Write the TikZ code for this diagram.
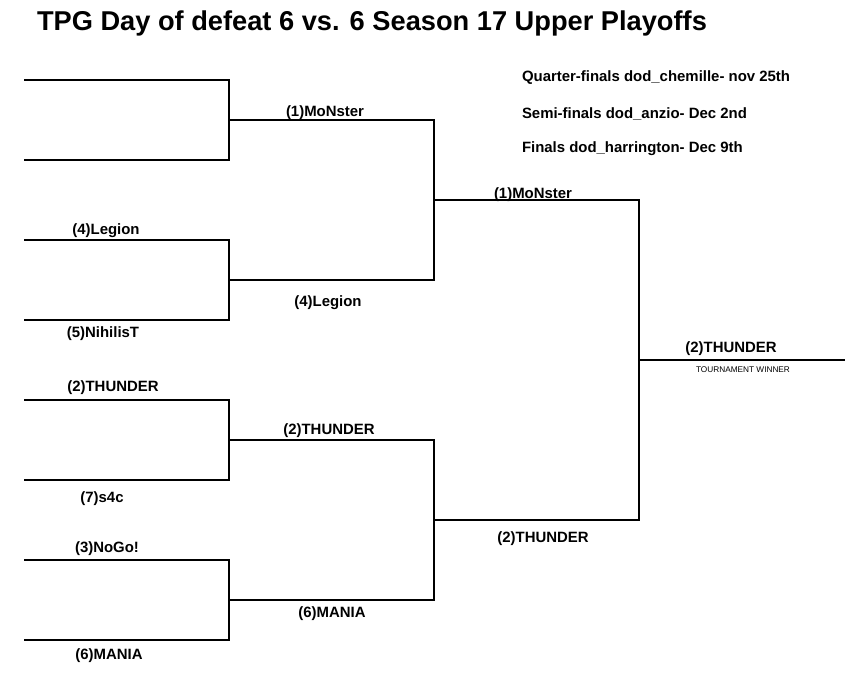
\documentclass[tikz,border=0pt]{standalone}
\usepackage{fontspec}
\setmainfont{Liberation Sans}
\usepackage{tikz}
\usetikzlibrary{positioning}

\begin{document}
\begin{tikzpicture}[
  x=0.02cm, y=-0.02cm,
  every node/.style={inner sep=0pt, outer sep=0pt},
  team/.style={font=\fontsize{8.5}{10}\selectfont\bfseries},
  info/.style={font=\fontsize{8.5}{10}\selectfont\bfseries, anchor=west},
  title/.style={font=\fontsize{15.5}{18}\selectfont\bfseries, anchor=west},
  tiny/.style={font=\fontsize{4.7}{6}\selectfont},
  line/.style={draw=black, line width=0.6pt}
]
\useasboundingbox (0,0) rectangle (845,681);

\node[title] (head) at (37,23) {TPG Day of defeat 6 vs. 6 Season 17 Upper Playoffs};
\node[info] (qfdate) at (522,78) {Quarter-finals dod\_chemille- nov 25th};
\node[info] (sfdate) at (522,114) {Semi-finals dod\_anzio- Dec 2nd};
\node[info] (fdate) at (522,149) {Finals dod\_harrington- Dec 9th};

% quarter-final slots
\coordinate (qf1a) at (24,80);
\coordinate (qf1b) at (24,160);
\coordinate (qf2a) at (24,240);
\coordinate (qf2b) at (24,320);
\coordinate (qf3a) at (24,400);
\coordinate (qf3b) at (24,480);
\coordinate (qf4a) at (24,560);
\coordinate (qf4b) at (24,640);
% semi-final slots
\coordinate (sf1a) at (229,120);
\coordinate (sf1b) at (229,280);
\coordinate (sf2a) at (229,440);
\coordinate (sf2b) at (229,600);
% final slots
\coordinate (fin1) at (434,200);
\coordinate (fin2) at (434,520);
\coordinate (champ) at (639,360);
\coordinate (champend) at (845,360);

\draw[line] (qf1a) -| (sf1a) |- (qf1b);
\draw[line] (qf2a) -| (sf1b) |- (qf2b);
\draw[line] (qf3a) -| (sf2a) |- (qf3b);
\draw[line] (qf4a) -| (sf2b) |- (qf4b);
\draw[line] (sf1a) -| (fin1) |- (sf1b);
\draw[line] (sf2a) -| (fin2) |- (sf2b);
\draw[line] (fin1) -| (champ) |- (fin2);
\draw[line] (champ) -- (champend);

\node[team] (legionqf) at (106,231) {(4)Legion};
\node[team] (nihilis) at (103,334) {(5)NihilisT};
\node[team] (thunderqf) at (113,388) {(2)THUNDER};
\node[team] (s4c) at (102,499) {(7)s4c};
\node[team] (nogo) at (107,549) {(3)NoGo!};
\node[team] (maniaqf) at (109,656) {(6)MANIA};

\node[team] (monstersf) at (325,113) {(1)MoNster};
\node[team] (legionsf) at (328,303) {(4)Legion};
\node[team] (thundersf) at (329,431) {(2)THUNDER};
\node[team] (maniasf) at (332,614) {(6)MANIA};

\node[team] (monsterf) at (533,195) {(1)MoNster};
\node[team] (thunderf) at (543,539) {(2)THUNDER};

\node[team] (winner) at (731,349) {(2)THUNDER};
\node[tiny] (winlabel) at (743,370) {TOURNAMENT WINNER};
\end{tikzpicture}
\end{document}
